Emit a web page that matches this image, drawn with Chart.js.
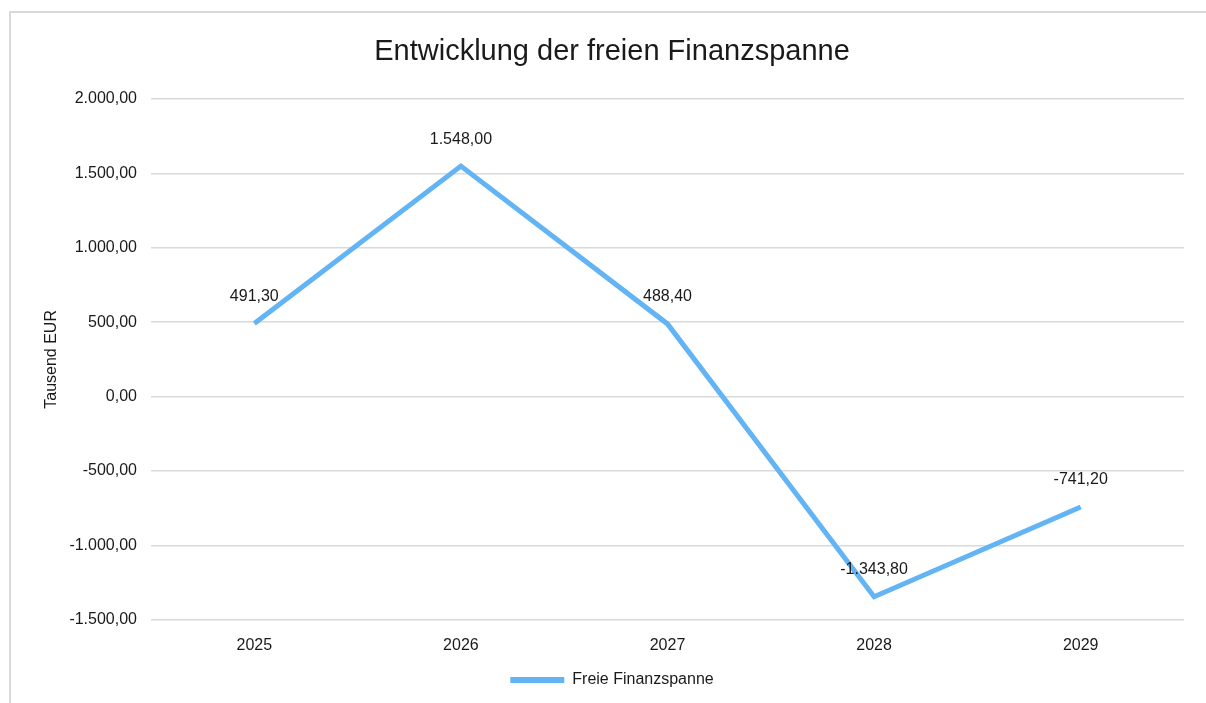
<!DOCTYPE html>
<html>
<head>
<meta charset="utf-8">
<script src="https://cdn.jsdelivr.net/npm/chart.js@4.4.1/dist/chart.umd.min.js"></script>
<style>
  html, body { margin: 0; padding: 0; background: #fff; }
  #wrap { position: relative; width: 1206px; height: 703px; }
</style>
</head>
<body>
<div id="wrap"><canvas id="myChart" width="1206" height="703"></canvas></div>
<script>
const years = ['2025', '2026', '2027', '2028', '2029'];
const freieFinanzspanne = [491.3, 1548.0, 488.4, -1343.8, -741.2];
const yTicks = [-1500, -1000, -500, 0, 500, 1000, 1500, 2000];

const lineColor = '#63b4f5';
const textColor = '#1a1a1a';
const gridColor = '#d9d9d9';
const fontFamily = "'Liberation Sans', Arial, sans-serif";

// Zahl im deutschen Format, zwei Nachkommastellen
function formatDE(value) {
  let neg = value < 0;
  let parts = Math.abs(value).toFixed(2).split('.');
  let intPart = parts[0].replace(/\B(?=(\d{3})+(?!\d))/g, '.');
  return (neg ? '-' : '') + intPart + ',' + parts[1];
}

const framePlugin = {
  id: 'frame',
  beforeDraw(chart) {
    let ctx = chart.ctx;
    ctx.save();
    ctx.strokeStyle = gridColor;
    ctx.lineWidth = 2;
    ctx.beginPath();
    ctx.moveTo(10, 703);
    ctx.lineTo(10, 12);
    ctx.lineTo(1206, 12);
    ctx.stroke();
    ctx.restore();
  }
};

const valueLabels = {
  id: 'valueLabels',
  afterDatasetsDraw(chart) {
    let ctx = chart.ctx;
    let meta = chart.getDatasetMeta(0);
    ctx.save();
    ctx.font = '16px ' + fontFamily;
    ctx.fillStyle = textColor;
    ctx.textAlign = 'center';
    ctx.textBaseline = 'middle';
    meta.data.forEach((point, i) => {
      ctx.fillText(formatDE(freieFinanzspanne[i]), point.x, point.y - 27);
    });
    ctx.restore();
  }
};

const myChartElement = document.getElementById('myChart');

let myChart = new Chart(myChartElement, {
  type: 'line',
  data: {
    labels: years,
    datasets: [
      {
        label: 'Freie Finanzspanne',
        data: freieFinanzspanne,
        borderColor: lineColor,
        backgroundColor: lineColor,
        borderWidth: 5,
        pointRadius: 0,
        tension: 0,
        borderJoinStyle: 'miter'
      }
    ]
  },
  options: {
    responsive: false,
    animation: false,
    layout: {
      padding: { left: 40, right: 22, top: 0, bottom: 5 }
    },
    plugins: {
      title: {
        display: true,
        text: 'Entwicklung der freien Finanzspanne',
        color: textColor,
        font: { family: fontFamily, size: 29, weight: 'normal' },
        padding: { top: 35, bottom: 29 }
      },
      legend: {
        position: 'bottom',
        labels: {
          color: textColor,
          font: { family: fontFamily, size: 16 },
          padding: 10,
          boxWidth: 54,
          boxHeight: 6,
          useBorderRadius: true,
          borderRadius: 3,
          generateLabels: function (chart) {
            return [{
              text: 'Freie Finanzspanne',
              fillStyle: lineColor,
              strokeStyle: lineColor,
              lineWidth: 0,
              fontColor: textColor,
              datasetIndex: 0
            }];
          }
        }
      },
      tooltip: { enabled: false }
    },
    scales: {
      x: {
        offset: true,
        grid: { display: false },
        border: { display: false },
        ticks: {
          color: textColor,
          font: { family: fontFamily, size: 16 },
          padding: 8
        },
        afterFit: function (scale) {
          scale.height = 42;
        }
      },
      y: {
        min: -1500,
        max: 2000,
        afterBuildTicks: function (scale) {
          scale.ticks = yTicks.map(v => ({ value: v }));
        },
        grid: {
          color: gridColor,
          lineWidth: 1.5,
          drawTicks: false
        },
        border: { display: false },
        ticks: {
          color: textColor,
          font: { family: fontFamily, size: 16 },
          padding: 14,
          callback: function (value) {
            return formatDE(value);
          }
        },
        title: {
          display: true,
          text: 'Tausend EUR',
          color: textColor,
          font: { family: fontFamily, size: 16 },
          padding: { top: 2, bottom: 0 }
        },
        afterFit: function (scale) {
          scale.width = 111;
        }
      }
    }
  },
  plugins: [framePlugin, valueLabels]
});
</script>
</body>
</html>
